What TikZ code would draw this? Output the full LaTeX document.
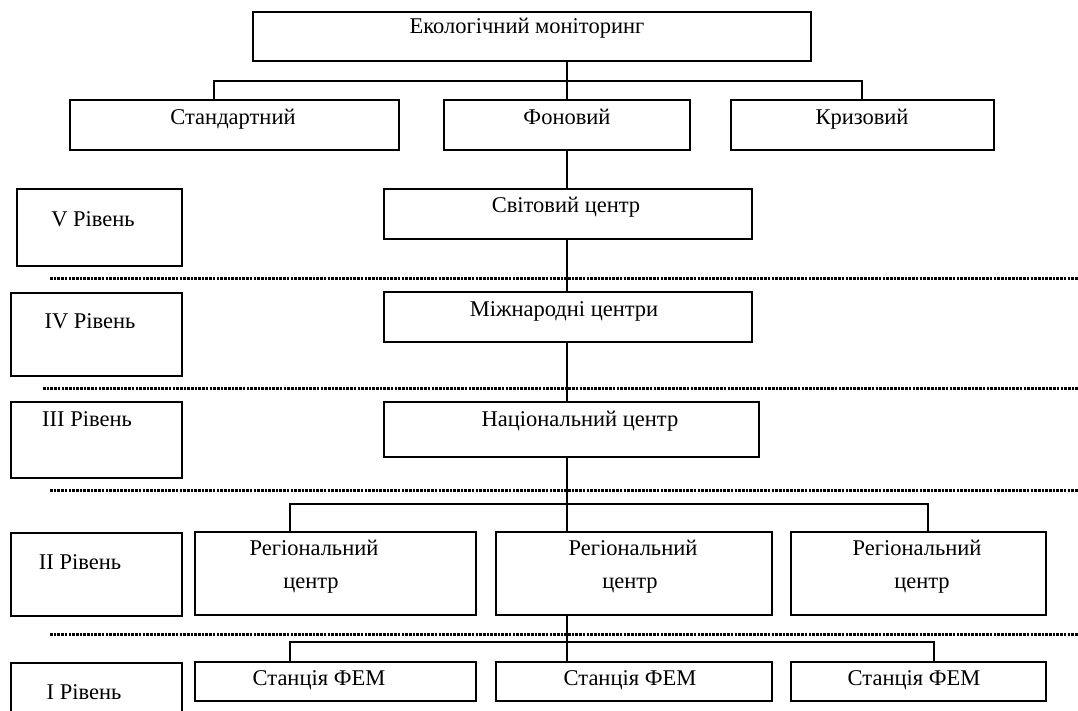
\documentclass[tikz,border=0pt]{standalone}
\usepackage{fontspec}
\setmainfont{Liberation Serif}
\newcommand\mybox[5]{\node[bx, minimum width={(#4)-(#2)}, minimum height={(#5)-(#3)}] (#1) at ({((#2)+(#4))/2},{((#3)+(#5))/2}) {};}
\begin{document}
\begin{tikzpicture}[x=1pt,y=-1pt,
  bx/.style={draw=black, line width=2.4pt, inner sep=0pt, outer sep=0pt},
  lbl/.style={anchor=base, inner sep=0pt, font=\fontsize{22.5}{26}\selectfont},
  conn/.style={draw=black, line width=2.3pt},
  dotline/.style={draw=black, line width=3pt, dash pattern=on 2.6pt off 1.1pt}]
\useasboundingbox (0,0) rectangle (1078,711);
\clip (0,0) rectangle (1078,711);
% top
\mybox{top}{253}{12}{811}{61}
\node[lbl] (ttop) at (527,34) {Екологічний моніторинг};
\mybox{std}{70}{100}{399}{150}
\node[lbl] (tstd) at (233,125) {Стандартний};
\mybox{fon}{444}{100}{690}{150}
\node[lbl] (tfon) at (567,125) {Фоновий};
\mybox{kriz}{731}{100}{994}{150}
\node[lbl] (tkriz) at (862,125) {Кризовий};
% levels
\mybox{l5}{17}{189}{182}{266}
\node[lbl] (tl5) at (93,227) {V Рівень};
\mybox{l4}{11}{293}{182}{376}
\node[lbl] (tl4) at (90,328) {IV Рівень};
\mybox{l3}{11}{402}{182}{478}
\node[lbl] (tl3) at (87,426) {III Рівень};
\mybox{l2}{11}{533}{182}{616}
\node[lbl] (tl2) at (80,569) {II Рівень};
\mybox{l1}{11}{663}{182}{720}
\node[lbl] (tl1) at (84,699) {I Рівень};
% centre column
\mybox{world}{384}{189}{752}{239}
\node[lbl] (tworld) at (566,213) {Світовий центр};
\mybox{intl}{384}{292}{752}{342}
\node[lbl] (tintl) at (564,316) {Міжнародні центри};
\mybox{nat}{384}{402}{759}{457}
\node[lbl] (tnat) at (580,426) {Національний центр};
% regional
\mybox{reg1}{195}{532}{476}{615}
\mybox{reg2}{496}{532}{772}{615}
\mybox{reg3}{791}{532}{1046}{615}
\node[lbl] (tr1a) at (314,555) {Регіональний};
\node[lbl] (tr1b) at (311,588) {центр};
\node[lbl] (tr2a) at (633,555) {Регіональний};
\node[lbl] (tr2b) at (630,588) {центр};
\node[lbl] (tr3a) at (917,555) {Регіональний};
\node[lbl] (tr3b) at (922,588) {центр};
% stations
\mybox{st1}{195}{662}{476}{701}
\mybox{st2}{496}{662}{772}{701}
\mybox{st3}{791}{662}{1046}{701}
\node[lbl] (ts1) at (319,685) {Станція ФЕМ};
\node[lbl] (ts2) at (630,685) {Станція ФЕМ};
\node[lbl] (ts3) at (914,685) {Станція ФЕМ};
% dotted separators
\coordinate (d1a) at (50,278);  \coordinate (d1b) at (1078,278);
\coordinate (d2a) at (43,388);  \coordinate (d2b) at (1078,388);
\coordinate (d3a) at (50,490);  \coordinate (d3b) at (1078,490);
\coordinate (d4a) at (50,634);  \coordinate (d4b) at (1078,634);
\draw[dotline] (d1a) -- (d1b);
\draw[dotline] (d2a) -- (d2b);
\draw[dotline] (d3a) -- (d3b);
\draw[dotline] (d4a) -- (d4b);
% connectors
\coordinate (axis) at (567,0);
\coordinate (b1) at (214,81);
\coordinate (b3) at (862,81);
\draw[conn] (axis |- top.south) -- (axis |- fon.north);
\draw[conn] (b1 |- std.north) -- (b1) -- (b3) -- (b3 |- kriz.north);
\draw[conn] (axis |- fon.south) -- (axis |- world.north);
\draw[conn] (axis |- world.south) -- (axis |- intl.north);
\draw[conn] (axis |- intl.south) -- (axis |- nat.north);
\coordinate (r1) at (290,504);
\coordinate (r3) at (928,504);
\draw[conn] (axis |- nat.south) -- (axis |- reg2.north);
\draw[conn] (r1 |- reg1.north) -- (r1) -- (r3) -- (r3 |- reg3.north);
\coordinate (s1) at (290,642);
\coordinate (s3) at (934,642);
\draw[conn] (axis |- reg2.south) -- (axis |- st2.north);
\draw[conn] (s1 |- st1.north) -- (s1) -- (s3) -- (s3 |- st3.north);
\end{tikzpicture}
\end{document}
